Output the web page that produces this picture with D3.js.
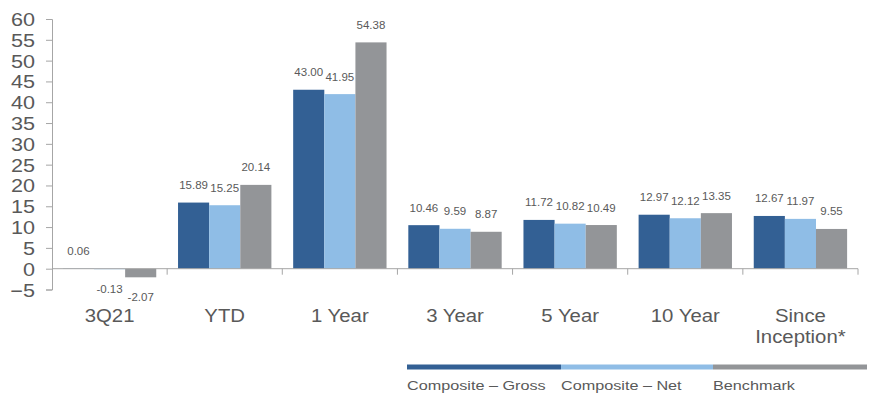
<!DOCTYPE html>
<html>
<head>
<meta charset="utf-8">
<script src="https://cdn.jsdelivr.net/npm/d3@7"></script>
<style>
  body { margin: 0; background: #fff; }
  text { font-family: "Liberation Sans", Arial, sans-serif; fill: #595959; }
</style>
</head>
<body>
<div id="chart"></div>
<script>
var categories = ['3Q21', 'YTD', '1 Year', '3 Year', '5 Year', '10 Year', 'Since Inception*'];
var seriesNames = ['Composite \u2013 Gross', 'Composite \u2013 Net', 'Benchmark'];
var gross = [0.06, 15.89, 43.00, 10.46, 11.72, 12.97, 12.67];
var net = [-0.13, 15.25, 41.95, 9.59, 10.82, 12.12, 11.97];
var benchmark = [-2.07, 20.14, 54.38, 8.87, 10.49, 13.35, 9.55];
var yTicks = [-5, 0, 5, 10, 15, 20, 25, 30, 35, 40, 45, 50, 55, 60];
var colors = ['#336094', '#8fbde6', '#939598'];

var w = 869, h = 394;
var series = [gross, net, benchmark];

var svg = d3.select('#chart').append('svg')
  .attr('width', w)
  .attr('height', h);

var y = d3.scaleLinear().domain([-5, 60]).range([289.5, 19]);
var x = d3.scaleBand().domain(categories).range([52, 858]);
var xs = d3.scaleBand().domain(d3.range(3)).range([0, x.bandwidth()]).paddingOuter(0.35);

// y axis
var yAxis = d3.axisLeft(y).tickValues(yTicks).tickSize(6).tickSizeOuter(6).tickFormat(d3.format('d'));
var ya = svg.append('g')
  .attr('transform', 'translate(52,0)')
  .call(yAxis);
ya.select('.domain').attr('stroke', '#a6a6a6');
ya.selectAll('.tick line').attr('stroke', '#a6a6a6');
ya.selectAll('.tick text')
  .attr('x', null).attr('dy', null)
  .attr('text-anchor', 'end')
  .style('font-size', '18px')
  .attr('transform', 'translate(-17,6.5) scale(1.2,1)')
  .attr('fill', '#595959');

// bars
categories.forEach(function (c, i) {
  series.forEach(function (s, j) {
    var v = s[i];
    svg.append('rect')
      .attr('x', x(c) + xs(j))
      .attr('width', xs.bandwidth())
      .attr('y', y(Math.max(v, 0)))
      .attr('height', Math.abs(y(v) - y(0)))
      .attr('fill', colors[j]);
  });
});

// x axis along zero
var xa = svg.append('g');
xa.append('line')
  .attr('x1', 52).attr('x2', 858)
  .attr('y1', y(0)).attr('y2', y(0))
  .attr('stroke', '#a6a6a6');
var bounds = categories.map(function (c) { return x(c) + x.bandwidth(); });
xa.selectAll('line.tk').data(bounds).enter().append('line')
  .attr('class', 'tk')
  .attr('x1', function (d) { return d; }).attr('x2', function (d) { return d; })
  .attr('y1', y(0)).attr('y2', y(0) + 6)
  .attr('stroke', '#a6a6a6');

// category labels
categories.forEach(function (c) {
  var parts = c === 'Since Inception*' ? ['Since', 'Inception*'] : [c];
  var cx = x(c) + x.bandwidth() / 2;
  parts.forEach(function (p, k) {
    svg.append('text')
      .attr('text-anchor', 'middle')
      .attr('transform', 'translate(' + cx + ',' + (322 + k * 21) + ') scale(1.1,1)')
      .style('font-size', '18.5px')
      .text(p);
  });
});

// data labels
categories.forEach(function (c, i) {
  series.forEach(function (s, j) {
    var v = s[i];
    var cx = x(c) + xs(j) + xs.bandwidth() / 2;
    var ty = v >= 0 ? y(v) - 13.5 : y(v) + 23.5;
    svg.append('text')
      .attr('x', cx)
      .attr('y', ty)
      .attr('text-anchor', 'middle')
      .style('font-size', '11.5px')
      .text(v.toFixed(2));
  });
});

// legend
var legX = [407, 561, 713, 867];
seriesNames.forEach(function (n, j) {
  svg.append('rect')
    .attr('x', legX[j]).attr('y', 364.5)
    .attr('width', legX[j + 1] - legX[j]).attr('height', 5)
    .attr('fill', colors[j]);
  svg.append('text')
    .attr('transform', 'translate(' + legX[j] + ',390) scale(1.2,1)')
    .style('font-size', '13.5px')
    .text(n);
});
</script>
</body>
</html>
